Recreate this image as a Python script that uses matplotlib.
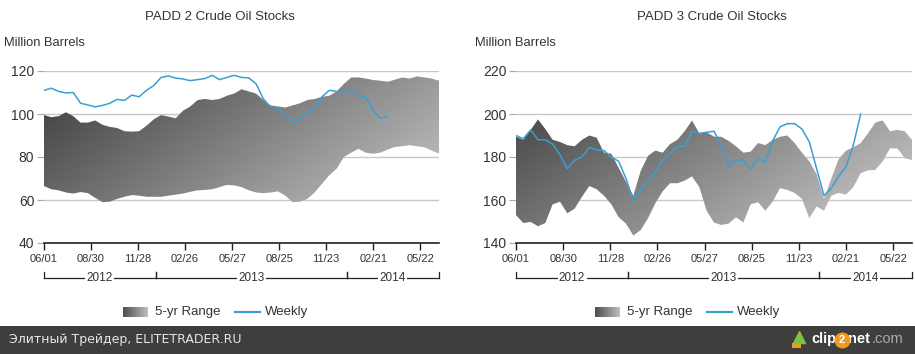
import numpy as np
import pandas as pd
import matplotlib
matplotlib.use('Agg')
import matplotlib.pyplot as plt
import matplotlib.dates as mdates
from matplotlib.lines import Line2D
from matplotlib.patches import Rectangle

plt.rcParams['font.family'] = ['Liberation Sans', 'DejaVu Sans']

# biweekly dates, 2012-06-01 .. 2014-06-27
dates = pd.date_range('2012-06-01', periods=55, freq='14D')

# PADD 2 (million barrels)
padd2_hi = [99.5, 98.5, 99, 100.8, 99, 96, 96, 97, 95, 94, 93.5, 92, 91.8, 92, 94.5,
            97.5, 99.5, 98.8, 98, 101.5, 103.5, 106.5, 107, 106.5, 107, 108.5, 109.5,
            111.5, 110.5, 109.5, 106.5, 104, 103.5, 103, 104, 105, 106.5, 107, 108,
            108.5, 110.5, 114, 117, 117, 116.5, 115.8, 115.5, 115, 116, 117, 116.5,
            117.5, 117, 116.5, 115.5]
padd2_lo = [66.5, 65, 64.5, 63.5, 63, 63.7, 63.2, 61, 59, 59.2, 60.5, 61.5, 62.3, 62,
            61.5, 61.5, 61.5, 62, 62.5, 63, 63.8, 64.5, 64.7, 65, 66, 67, 66.8, 66,
            64.5, 63.5, 63.2, 63.5, 64, 62, 59, 59.2, 60.5, 63.5, 67.5, 71.5, 74.5, 80,
            82, 83.8, 82, 81.5, 82, 83.5, 84.7, 85, 85.5, 85, 84.5, 83, 81.5]
padd2_week = [111, 112, 110.5, 109.8, 110, 105, 104.2, 103.3, 104, 105, 106.8, 106.3,
              108.8, 108, 111, 113.2, 117, 117.7, 116.7, 116.3, 115.5, 116, 116.5, 118,
              116, 117, 118, 117, 116.8, 114, 107, 103, 102.8, 99, 96, 97.5, 100.5,
              102.5, 108, 111, 110.5, 110, 111.5, 108.5, 108, 101.5, 98, 99]

# PADD 3 (million barrels)
padd3_hi = [189.5, 188, 192.6, 197.5, 193, 188, 187, 185.5, 185, 188, 190, 189, 182,
            181.5, 175, 168.5, 162, 173.5, 180.5, 183, 182, 186, 188, 192, 197, 191,
            191.5, 189.5, 189.4, 187.5, 185, 182, 182.5, 186.5, 185.5, 188, 189.4, 190,
            186.5, 182, 178, 172, 160.5, 170, 179, 183, 184.5, 186.5, 191, 196, 197,
            192, 192.6, 192, 188]
padd3_lo = [153, 149.3, 149.8, 147.8, 149.3, 158, 159.2, 153.8, 156, 161.5, 166.5, 165,
            162, 158, 152, 149, 143.5, 146, 151.5, 158.5, 164, 167.8, 167.8, 169, 171,
            166, 155, 149.5, 148.4, 149, 152, 149.5, 158, 159, 155, 159.2, 165.5, 164.7,
            163.3, 160.5, 151.5, 157, 155, 162, 163.3, 162.5, 166, 172.5, 173.8, 174,
            178, 184, 184, 179.5, 178.6]
padd3_week = [190, 188.5, 192.6, 188, 188, 186, 181, 174.5, 178.5, 180, 184.5, 183.3,
              183, 180, 178, 170, 159.5, 164.7, 169, 173, 178.6, 181.5, 185, 185, 192,
              191, 191.5, 192, 185.5, 175.5, 178.6, 178.6, 174.5, 179.5, 177.5, 187.5,
              194, 195.5, 195.5, 193, 187, 174.5, 162, 165.5, 171, 175.5, 185.5, 200]

titles = ['PADD 2 Crude Oil Stocks', 'PADD 3 Crude Oil Stocks']
ylims = [(40, 120), (140, 220)]
years = [('2012', '2012-06-01', '2013-01-01'),
         ('2013', '2013-01-01', '2014-01-01'),
         ('2014', '2014-01-01', '2014-06-27')]

W, H = 915, 354
fig = plt.figure(figsize=(W / 100, H / 100), dpi=100)

line_color = '#3a9fd2'
text_color = '#333333'

# diagonal gray gradient (dark top-left -> light bottom-right)
gx, gy = np.meshgrid(np.linspace(0, 1, 200), np.linspace(1, 0, 200))
grad = 0.22 + 0.62 * (0.6 * gx + 0.4 * (1 - gy))


def fx(px):
    return px / W


def fy(py):
    return 1 - py / H


panels = [
    (44, 439, padd2_hi, padd2_lo, padd2_week, 0),
    (516, 912, padd3_hi, padd3_lo, padd3_week, 1),
]

for left, right, hi, lo, week, k in panels:
    ax = fig.add_axes([fx(left), fy(243), fx(right - left), (243 - 71) / H])
    x0 = mdates.date2num(pd.Timestamp('2012-06-01'))
    x1 = mdates.date2num(pd.Timestamp('2014-06-27'))
    ymin, ymax = ylims[k]
    ax.set_xlim(x0, x1)
    ax.set_ylim(ymin, ymax)

    # 5-yr range with gradient fill
    band = ax.fill_between(dates, lo, hi, facecolor='none', edgecolor='none')
    im = ax.imshow(grad, cmap='gray', vmin=0, vmax=1, aspect='auto',
                   extent=[x0, x1, ymin, ymax], origin='upper', zorder=2)
    im.set_clip_path(band.get_paths()[0], transform=ax.transData)

    ax.plot(dates[:len(week)], week, color=line_color, lw=1.1, zorder=3)

    # axes styling
    for s in ['left', 'right', 'top']:
        ax.spines[s].set_visible(False)
    ax.spines['bottom'].set_color('#222222')
    ax.spines['bottom'].set_linewidth(1.2)
    ax.set_yticks(np.arange(ymin, ymax + 1, 20))
    ax.yaxis.grid(True, color='#c8c8c8', lw=1)
    ax.set_axisbelow(True)
    ax.tick_params(axis='y', length=5, color='#aaaaaa', labelsize=10,
                   labelcolor=text_color, pad=2)
    ticks = pd.date_range('2012-06-01', periods=9, freq='90D')
    ax.set_xticks(mdates.date2num(ticks))
    ax.xaxis.set_major_formatter(mdates.DateFormatter('%m/%d'))
    ax.tick_params(axis='x', length=5, width=1, color='#222222', labelsize=8,
                   labelcolor=text_color, pad=3)

    # year brackets
    tr = ax.get_xaxis_transform()
    yb = -(278 - 243) / 172
    yt = -(272 - 243) / 172
    for label, a, b in years:
        xa = mdates.date2num(pd.Timestamp(a))
        xb = mdates.date2num(pd.Timestamp(b))
        ax.plot([xa, xb], [yb, yb], color='#222222', lw=0.9, transform=tr, clip_on=False)
        ax.plot([xa, xa], [yt, yb], color='#222222', lw=0.9, transform=tr, clip_on=False)
        ax.plot([xb, xb], [yt, yb], color='#222222', lw=0.9, transform=tr, clip_on=False)
        ax.text((xa + xb) / 2, yb, label, transform=tr, ha='center', va='center',
                fontsize=8.5, color=text_color,
                bbox=dict(facecolor='white', edgecolor='none', pad=1))

    # title and unit label
    cx = 220 if k == 0 else 712
    fig.text(fx(cx), fy(17), titles[k], ha='center', va='center', fontsize=9.5,
             color=text_color)
    fig.text(fx(4 if k == 0 else 475), fy(43), 'Million Barrels', ha='left',
             va='center', fontsize=9.3, color=text_color)

    # legend
    px0 = 123 if k == 0 else 595
    lax = fig.add_axes([fx(px0), fy(317), fx(25), 10 / H])
    lax.imshow(np.linspace(0.3, 0.75, 50)[None, :], cmap='gray', vmin=0, vmax=1,
               aspect='auto')
    lax.axis('off')
    fig.text(fx(px0 + 32), fy(312), '5-yr Range', ha='left', va='center',
             fontsize=9.5, color=text_color)
    fig.add_artist(Line2D([fx(px0 + 112), fx(px0 + 137)], [fy(312), fy(312)],
                          color=line_color, lw=1.6))
    fig.text(fx(px0 + 142), fy(312), 'Weekly', ha='left', va='center',
             fontsize=9.5, color=text_color)

# bottom banner
fig.add_artist(Rectangle((0, 0), 1, fy(326), transform=fig.transFigure,
                         facecolor='#3e3e3e', edgecolor='none'))
fig.text(fx(9), fy(340), 'Элитный Трейдер, ELITETRADER.RU', ha='left', va='center',
         fontsize=9, color='#e6e6e6', family=['DejaVu Sans'])
fig.add_artist(Line2D([fx(799)], [fy(337)], marker='^', markersize=9,
                      color='#7cc242', transform=fig.transFigure))
fig.add_artist(Rectangle((fx(792), fy(348)), fx(9), 5 / H, transform=fig.transFigure,
                         facecolor='#f29a1f', edgecolor='none'))
fig.text(fx(811), fy(339), 'clip', ha='left', va='center', fontsize=10.5,
         weight='bold', color='white')
fig.add_artist(Line2D([fx(842)], [fy(340)], marker='o', markersize=10.5,
                      color='#f29a1f', transform=fig.transFigure, zorder=5))
fig.text(fx(842), fy(340), '2', ha='center', va='center', fontsize=8,
         weight='bold', color='white', zorder=6)
fig.text(fx(848), fy(339), 'net', ha='left', va='center', fontsize=10.5,
         weight='bold', color='white')
fig.text(fx(872), fy(339), '.com', ha='left', va='center', fontsize=10.5,
         color='#aaaaaa')

fig.savefig('out.png', dpi=100)
